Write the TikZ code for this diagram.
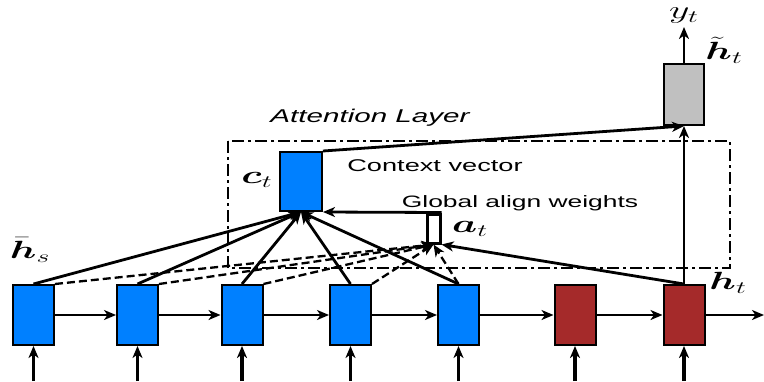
\documentclass[tikz,border=0pt]{standalone}
\usepackage{fontspec}
\setmainfont{Liberation Sans}
\usepackage{bm}
\usepackage{graphicx}
\usetikzlibrary{arrows.meta}

\definecolor{encblue}{RGB}{0,128,255}
\definecolor{decred}{RGB}{165,42,42}
\definecolor{outgray}{RGB}{192,192,192}
\newcommand{\wide}[1]{\scalebox{1.6}[1]{#1}}

\begin{document}
\begin{tikzpicture}[x=1pt, y=-1pt,
    >={Stealth[length=12pt,width=10pt,inset=3.5pt]},
    cell/.style={draw=black, line width=2pt, minimum width=41pt, minimum height=60pt, inner sep=0pt},
    enc/.style={cell, fill=encblue},
    dec/.style={cell, fill=decred},
    lbl/.style={inner sep=0pt, font=\fontsize{16.5}{19}\selectfont},
    sym/.style={inner sep=0pt, font=\fontsize{23}{27}\selectfont},
    link/.style={line width=2.8pt},
    flow/.style={line width=2pt},
    feed/.style={line width=3.6pt},
    score/.style={line width=2.3pt, dash pattern=on 8pt off 4pt}]

    \useasboundingbox (0,0) rectangle (764,381);

    % attention layer frame
    \draw[line width=2.8pt, dash pattern=on 12pt off 4pt on 3pt off 4pt] (228,141) rectangle (730,268);

    \node[enc] (h1) at (33.5,315) {};
    \node[enc] (h2) at (137.5,315) {};
    \node[enc] (h3) at (242,315) {};
    \node[enc] (h4) at (350.5,315) {};
    \node[enc] (h5) at (458.5,315) {};
    \node[dec] (h6) at (575,315) {};
    \node[dec] (h7) at (684,315) {};

    \node[enc, minimum width=42pt, minimum height=59pt] (ct) at (301,181.5) {};
    \node[cell, fill=outgray, minimum width=40pt, minimum height=61pt] (yt) at (684,94.5) {};
    \node[draw=black, fill=white, line width=3pt, minimum width=13pt, minimum height=29pt, inner sep=0pt] (at) at (433.5,228.5) {};

    \coordinate (x1) at (33.5,381);
    \coordinate (x2) at (137.5,381);
    \coordinate (x3) at (242,381);
    \coordinate (x4) at (350.5,381);
    \coordinate (x5) at (458.5,381);
    \coordinate (x6) at (575,381);
    \coordinate (x7) at (684,381);
    \coordinate (next) at (764,315);
    \coordinate (out) at (684,27);

    \node[lbl, font=\fontsize{18.5}{21}\selectfont\itshape] (attnlabel) at (370,118) {\wide{Attention Layer}};
    \node[lbl, font=\fontsize{17}{20}\selectfont] (ctxlabel) at (435,166) {\wide{Context vector}};
    \node[lbl] (alignlabel) at (520,203) {\wide{Global align weights}};

    \node[sym] (ctlabel) at (257,180) {\wide{$\bm{c}_t$}};
    \node[sym] (atlabel) at (470,229) {\wide{$\bm{a}_t$}};
    \node[sym] (hslabel) at (30,250) {\wide{$\bar{\bm{h}}_s$}};
    \node[sym] (htlabel) at (728,283) {\wide{$\bm{h}_t$}};
    \node[sym] (ytlabel) at (684,16) {\wide{$y_t$}};
    \node[sym] (htildelabel) at (724,50) {\wide{$\tilde{\bm{h}}_t$}};

    \draw[flow,->] (h1) -- (h2);
    \draw[flow,->] (h2) -- (h3);
    \draw[flow,->] (h3) -- (h4);
    \draw[flow,->] (h4) -- (h5);
    \draw[flow,->] (h5) -- (h6);
    \draw[flow,->] (h6) -- (h7);
    \draw[flow,->] (h7) -- (next);

    \draw[feed,->] (x1) -- (h1);
    \draw[feed,->] (x2) -- (h2);
    \draw[feed,->] (x3) -- (h3);
    \draw[feed,->] (x4) -- (h4);
    \draw[feed,->] (x5) -- (h5);
    \draw[feed,->] (x6) -- (h6);
    \draw[feed,->] (x7) -- (h7);

    \draw[score,->] (h1.north east) -- (at.south);
    \draw[score,->] (h2.north east) -- (at.south);
    \draw[score,->] (h3.north east) -- (at.south);
    \draw[score,->] (h4.north east) -- (at.south);
    \draw[score,->] (h5.north) -- (at.south);
    \draw[link,->] (h7.north) -- (at.south east);

    \draw[link,->] (h1.north) -- (ct.south);
    \draw[link,->] (h2.north) -- (ct.south);
    \draw[link,->] (h3.north) -- (ct.south);
    \draw[link,->] (h4.north) -- (ct.south);
    \draw[link,->] (h5.north) -- (ct.south);
    \draw[link,->] (at.north east) -- (ct.south east);

    \draw[link,->] (ct.north east) -- (yt.south);
    \draw[link,->] (h7.north) -- (yt.south);
    \draw[link,->] (yt.north) -- (out);
\end{tikzpicture}
\end{document}
